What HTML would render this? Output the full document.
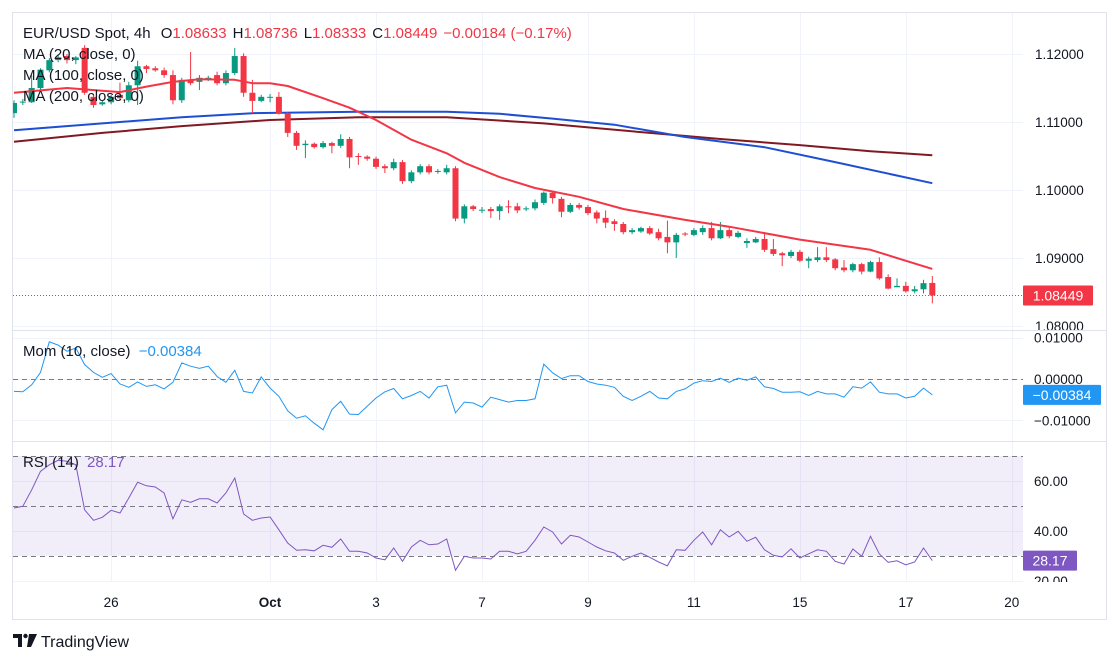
<!DOCTYPE html>
<html><head><meta charset="utf-8"><style>
html,body{margin:0;padding:0;background:#fff;}
body{width:1118px;height:663px;overflow:hidden;font-family:"Liberation Sans",sans-serif;}
svg{display:block}
text{font-family:"Liberation Sans",sans-serif;}
</style></head><body>
<svg id="chart" width="1118" height="663" xmlns="http://www.w3.org/2000/svg"></svg>
<script>
const candles = [
[1.1113,1.1132,1.1106,1.1128],[1.1129,1.1134,1.1125,1.1130],[1.1129,1.1169,1.1128,1.1150],[1.1150,1.1179,1.1147,1.1177],
[1.1176,1.1194,1.1173,1.1191],[1.1191,1.1198,1.1188,1.1195],[1.1197,1.1200,1.1186,1.1191],[1.1191,1.1197,1.1185,1.1195],
[1.1209,1.1213,1.1140,1.1143],[1.1137,1.1140,1.1121,1.1125],[1.1126,1.1131,1.1124,1.1129],[1.1129,1.1140,1.1126,1.1137],
[1.1140,1.1158,1.1132,1.1135],[1.1132,1.1159,1.1129,1.1154],[1.1154,1.1190,1.1125,1.1182],[1.1182,1.1184,1.1172,1.1178],
[1.1179,1.1182,1.1174,1.1176],[1.1176,1.1180,1.1165,1.1169],[1.1169,1.1176,1.1126,1.1132],[1.1132,1.1165,1.1128,1.1162],
[1.1162,1.1203,1.1154,1.1157],[1.1159,1.1169,1.1147,1.1165],[1.1163,1.1168,1.1160,1.1165],[1.1169,1.1174,1.1154,1.1157],
[1.1157,1.1176,1.1154,1.1172],[1.1172,1.1209,1.1169,1.1197],[1.1197,1.1201,1.1137,1.1143],[1.1143,1.1162,1.1113,1.1131],
[1.1131,1.1140,1.1129,1.1137],[1.1136,1.1141,1.1129,1.1137],[1.1137,1.1144,1.1111,1.1113],[1.1113,1.1115,1.1078,1.1084],
[1.1084,1.1087,1.1059,1.1065],[1.1066,1.1073,1.1047,1.1068],[1.1068,1.1070,1.1061,1.1063],[1.1063,1.1072,1.1061,1.1069],
[1.1069,1.1071,1.1054,1.1065],[1.1065,1.1082,1.1062,1.1075],[1.1075,1.1078,1.1032,1.1048],[1.1050,1.1054,1.1037,1.1049],
[1.1049,1.1051,1.1043,1.1046],[1.1046,1.1049,1.1031,1.1034],[1.1035,1.1038,1.1025,1.1032],[1.1032,1.1046,1.1029,1.1041],
[1.1041,1.1044,1.1009,1.1013],[1.1013,1.1029,1.1010,1.1026],[1.1026,1.1038,1.1023,1.1035],[1.1035,1.1038,1.1023,1.1026],
[1.1027,1.1031,1.1024,1.1028],[1.1026,1.1037,1.1023,1.1032],[1.1032,1.1035,1.0954,1.0958],[1.0958,1.0979,1.0951,1.0976],
[1.0976,1.0978,1.0969,1.0972],[1.0970,1.0975,1.0966,1.0971],[1.0972,1.0975,1.0959,1.0969],[1.0969,1.0979,1.0956,1.0976],
[1.0976,1.0985,1.0966,1.0975],[1.0976,1.0981,1.0966,1.0970],[1.0972,1.0976,1.0969,1.0973],[1.0973,1.0986,1.0970,1.0982],
[1.0981,1.0998,1.0978,1.0996],[1.0996,1.0999,1.0980,1.0988],[1.0987,1.0990,1.0960,1.0968],[1.0968,1.0981,1.0966,1.0978],
[1.0978,1.0981,1.0971,1.0974],[1.0975,1.0978,1.0963,1.0966],[1.0967,1.0970,1.0951,1.0958],[1.0959,1.0970,1.0944,1.0952],
[1.0954,1.0957,1.0940,1.0950],[1.0950,1.0953,1.0935,1.0938],[1.0938,1.0944,1.0935,1.0941],[1.0939,1.0946,1.0937,1.0944],
[1.0944,1.0947,1.0934,1.0936],[1.0938,1.0943,1.0926,1.0929],[1.0931,1.0955,1.0907,1.0923],[1.0923,1.0937,1.0900,1.0934],
[1.0936,1.0938,1.0932,1.0935],[1.0934,1.0944,1.0932,1.0941],[1.0938,1.0948,1.0934,1.0944],[1.0944,1.0953,1.0926,1.0929],
[1.0929,1.0953,1.0928,1.0941],[1.0941,1.0946,1.0929,1.0932],[1.0931,1.0940,1.0929,1.0937],[1.0922,1.0929,1.0915,1.0925],
[1.0923,1.0931,1.0922,1.0928],[1.0928,1.0937,1.0909,1.0912],[1.0913,1.0928,1.0903,1.0906],[1.0907,1.0909,1.0888,1.0904],
[1.0903,1.0912,1.0900,1.0909],[1.0909,1.0912,1.0894,1.0896],[1.0896,1.0902,1.0885,1.0899],[1.0897,1.0916,1.0894,1.0901],
[1.0901,1.0916,1.0894,1.0897],[1.0898,1.0900,1.0882,1.0885],[1.0886,1.0897,1.0879,1.0882],[1.0882,1.0893,1.0879,1.0891],
[1.0891,1.0893,1.0876,1.0880],[1.0880,1.0896,1.0879,1.0894],[1.0894,1.0901,1.0868,1.0870],[1.0872,1.0876,1.0854,1.0855],
[1.0857,1.0870,1.0857,1.0859],[1.0859,1.0865,1.0849,1.0851],[1.0851,1.0859,1.0848,1.0854],[1.0854,1.0868,1.0848,1.0863],
[1.08633,1.08736,1.08333,1.08449]
];
const ma20 = [[0,1.1143],[6,1.1150],[12,1.1144],[15,1.1152],[18,1.1159],[21,1.1163],[25,1.1162],[27,1.1157],[29,1.1157],[31,1.1153],[35,1.1135],[38,1.1121],[41,1.1103],[45,1.1074],[49,1.1054],[51,1.1040],[55,1.1019],[59,1.1003],[64,1.0990],[69,1.0972],[76,1.0956],[81,1.0946],[89,1.0927],[97,1.0912],[104,1.0884]];
const ma100 = [[0,1.1088],[10,1.1098],[19,1.1107],[27,1.1113],[39,1.1115],[49,1.1115],[55,1.1112],[61,1.1105],[68,1.1096],[76,1.1078],[85,1.1063],[93,1.1041],[104,1.1010]];
const ma200 = [[0,1.1071],[10,1.1084],[19,1.1094],[29,1.1103],[39,1.1107],[49,1.1107],[60,1.1098],[72,1.1084],[80,1.1075],[89,1.1066],[97,1.1057],[104,1.1051]];
const mom = [-0.0030,-0.0031,-0.0014,0.0016,0.0090,0.0082,0.0067,0.0075,0.0035,0.0016,0.0004,0.0013,-0.0012,-0.0020,-0.0007,-0.0018,-0.0014,-0.0024,-0.0008,0.0039,0.0031,0.0026,0.0031,0.0006,-0.0008,0.0021,-0.0030,-0.0034,0.0005,-0.0022,-0.0042,-0.0077,-0.0095,-0.0089,-0.0107,-0.0123,-0.0074,-0.0054,-0.0085,-0.0086,-0.0066,-0.0046,-0.0031,-0.0023,-0.0048,-0.0040,-0.0030,-0.0046,-0.0019,-0.0015,-0.0082,-0.0056,-0.0058,-0.0068,-0.0044,-0.0050,-0.0056,-0.0052,-0.0052,-0.0048,0.0036,0.0015,0.0001,0.0008,0.0008,-0.0006,-0.0012,-0.0015,-0.0020,-0.0042,-0.0052,-0.0042,-0.0030,-0.0046,-0.0048,-0.0030,-0.0024,-0.0010,-0.0004,-0.0006,0.0002,-0.0008,0.0002,-0.0003,0.0005,-0.0019,-0.0023,-0.0032,-0.0032,-0.0031,-0.0040,-0.0030,-0.0036,-0.0036,-0.0044,-0.0019,-0.0022,-0.0007,-0.0032,-0.0036,-0.0036,-0.0046,-0.0042,-0.0022,-0.00384];
const rsi = [49.2,49.9,56.5,63.9,66.5,68.3,67.9,66.5,48.5,44.3,45.5,48.3,47.2,53.2,59.5,58.1,57.6,55.2,44.9,52.5,51.5,52.9,52.9,51.2,55.2,61.2,46.8,44.3,45.2,45.6,40.5,35.2,32.3,32.5,32.1,34.3,33.5,36.8,31.9,31.9,31.2,29.2,28.5,33.2,27.9,33.6,36.3,34.5,34.8,36.8,24.3,29.9,29.2,29.2,28.8,31.9,31.9,30.9,31.9,36.3,41.6,39.6,34.8,38.3,37.6,35.6,33.6,32.1,31.2,28.3,29.9,31.2,29.5,27.6,26.1,32.5,32.3,36.3,39.6,34.5,40.5,37.6,39.9,35.9,37.5,32.5,30.3,29.6,32.9,29.2,30.9,32.5,31.9,27.9,26.8,32.8,29.9,37.9,30.9,27.5,28.1,26.5,27.6,33.2,28.17];
const priceTicks = [1.12,1.11,1.10,1.09,1.08];
const momTicks = [0.01,0,-0.01];
const rsiTicks = [60,40,20];
const dateLabels = ["26","Oct","3","7","9","11","15","17","20"];
const dateIdx = [11,29,41,53,65,77,89,101,113];

const NS="http://www.w3.org/2000/svg";
const svg=document.getElementById('chart');
function el(tag,attrs,parent){const e=document.createElementNS(NS,tag);for(const k in attrs)e.setAttribute(k,attrs[k]);(parent||svg).appendChild(e);return e;}
const L=13,R=1023,RB=1106;
const xOf=i=>14+i*8.83;
const yP=p=>54+(1.12-p)*6800;
const yM=v=>379-v*4130;
const yR=v=>556-(v-30)*2.5;

const frame=el('rect',{x:12.5,y:12.5,width:RB-12,height:607,fill:'#fff',stroke:'#e0e3eb'});



const grid=el('g',{stroke:'#f0f3fa','stroke-width':1});


dateIdx.forEach(i=>{const x=Math.round(xOf(i))+0.5;[[13,330],[330,441],[441,582]].forEach(s=>el('line',{x1:x,x2:x,y1:s[0],y2:s[1]},grid));});
priceTicks.forEach(p=>{const y=Math.round(yP(p))+0.5;el('line',{x1:L,x2:R,y1:y,y2:y},grid);});
momTicks.forEach(v=>{const y=Math.round(yM(v))+0.5;el('line',{x1:L,x2:R,y1:y,y2:y},grid);});
[60,40,20].forEach(v=>{const y=Math.round(yR(v))+0.5;el('line',{x1:L,x2:R,y1:y,y2:y},grid);});

const band=el('rect',{x:L,y:yR(70),width:R-L,height:yR(30)-yR(70),fill:'rgba(126,87,194,0.1)'});



[330.5,441.5].forEach(y=>{const s=el('line',{x1:12,x2:RB,y1:y,y2:y,stroke:'#e0e3eb','stroke-width':1});

});

const dl=[[yM(0)],[yR(70)],[yR(50)],[yR(30)]];
dl.forEach(d=>{const y=Math.round(d[0])+0.5;const l=el('line',{x1:L,x2:R,y1:y,y2:y,stroke:'#787b86','stroke-dasharray':'5,4','stroke-width':1});

});

const defs=el('defs',{});
const cp=el('clipPath',{id:'pclip'},defs);el('rect',{x:L,y:13,width:R-L,height:317},cp);
const pg=el('g',{'clip-path':'url(#pclip)'});



function maPath(arr,color,name){const d=arr.map((p,k)=>(k?'L':'M')+xOf(p[0]).toFixed(1)+','+yP(p[1]).toFixed(1)).join(' ');
const pth=el('path',{d:d,fill:'none',stroke:color,'stroke-width':2,'stroke-linejoin':'round'},pg);

}
maPath(ma200,'#801922','ma200-line');
maPath(ma100,'#1e4fd1','ma100-line');

candles.forEach((c,i)=>{const [o,h,l,cl]=c;const col=cl>=o?'#089981':'#f23645';const x=xOf(i);
const g=el('g',{},pg);


el('line',{x1:x,x2:x,y1:yP(h),y2:yP(l),stroke:col,'stroke-width':1},g);
const top=yP(Math.max(o,cl)),bot=yP(Math.min(o,cl));
el('rect',{x:x-3,y:top,width:6,height:Math.max(1,bot-top),fill:col},g);});
maPath(ma20,'#f23645','ma20-line');

const last=candles[candles.length-1][3];
const cpl=el('line',{x1:L,x2:R,y1:yP(last),y2:yP(last),stroke:'#f23645','stroke-dasharray':'1,2','stroke-width':1});



const md=mom.map((v,i)=>(i?'L':'M')+xOf(i).toFixed(1)+','+yM(v).toFixed(1)).join(' ');
const mp=el('path',{d:md,fill:'none',stroke:'#2196f3','stroke-width':1});


const rd=rsi.map((v,i)=>(i?'L':'M')+xOf(i).toFixed(1)+','+yR(v).toFixed(1)).join(' ');
const rp=el('path',{d:rd,fill:'none',stroke:'#7e57c2','stroke-width':1});



function txt(x,y,s,attrs,name){const t=el('text',Object.assign({x:x,y:y,'font-size':13.5,fill:'#131722'},attrs||{}));t.textContent=s;

return t;}
const axc=el('clipPath',{id:'axclip'},defs);el('rect',{x:R,y:13,width:RB-R,height:317},axc);
priceTicks.forEach(p=>{txt(1035,yP(p)+5,p.toFixed(5),{'clip-path':'url(#axclip)'},'price-tick-label');});
momTicks.forEach(v=>txt(1034,yM(v)+5,(v<0?'\u22120.01000':v.toFixed(5)),{},'mom-tick-label'));
const rc=el('clipPath',{id:'rclip'},defs);el('rect',{x:R,y:442,width:RB-R,height:140},rc);
rsiTicks.forEach(v=>txt(1034,yR(v)+5,v.toFixed(2),{'clip-path':'url(#rclip)'},'rsi-tick-label'));
dateLabels.forEach((s,k)=>txt(xOf(dateIdx[k]),607,s,{'text-anchor':'middle','font-weight':s==='Oct'?'bold':'normal'},'date-label'));

function badge(y,w,color,s,name){const g=el('g',{});


el('rect',{x:R,y:y-10,width:w,height:20,fill:color,rx:1},g);
const t=el('text',{x:R+w/2,y:y+5,'font-size':14,fill:'#fff','text-anchor':'middle'},g);t.textContent=s;}
badge(yP(last),70,'#f23645',last.toFixed(5),'last-price-badge');
badge(yM(mom[mom.length-1]),78,'#2196f3','\u2212'+Math.abs(mom[mom.length-1]).toFixed(5),'mom-value-badge');
badge(yR(rsi[rsi.length-1]),54,'#7e57c2',rsi[rsi.length-1].toFixed(2),'rsi-value-badge');

const hd=el('text',{x:23,y:38,'font-size':15,fill:'#131722'});


hd.innerHTML='EUR/USD Spot, 4h  <tspan dx="6">O</tspan><tspan fill="#f23645">1.08633</tspan><tspan dx="6">H</tspan><tspan fill="#f23645">1.08736</tspan><tspan dx="6">L</tspan><tspan fill="#f23645">1.08333</tspan><tspan dx="6">C</tspan><tspan fill="#f23645">1.08449</tspan><tspan dx="6" fill="#f23645">\u22120.00184 (\u22120.17%)</tspan>';
txt(23,59,'MA (20, close, 0)',{'font-size':15},'ma20-legend');
txt(23,80,'MA (100, close, 0)',{'font-size':15},'ma100-legend');
txt(23,101,'MA (200, close, 0)',{'font-size':15},'ma200-legend');
const ml=el('text',{x:23,y:356,'font-size':15,fill:'#131722'});


ml.innerHTML='Mom (10, close) <tspan dx="4" fill="#2196f3">\u22120.00384</tspan>';
const rl=el('text',{x:23,y:467,'font-size':15,fill:'#131722'});


rl.innerHTML='RSI (14) <tspan dx="4" fill="#7e57c2">28.17</tspan>';

const lg=el('g',{});


el('path',{d:'M13,634 h9 v13 h-4 v-9 h-5 z',fill:'#131722'},lg);
el('circle',{cx:25.5,cy:636,r:2.2,fill:'#131722'},lg);
el('path',{d:'M29,634 h8 l-6,13 h-4 z',fill:'#131722'},lg);
const lt=el('text',{x:41,y:647,'font-size':16,fill:'#131722'},lg);lt.textContent='TradingView';
</script>
</body></html>
